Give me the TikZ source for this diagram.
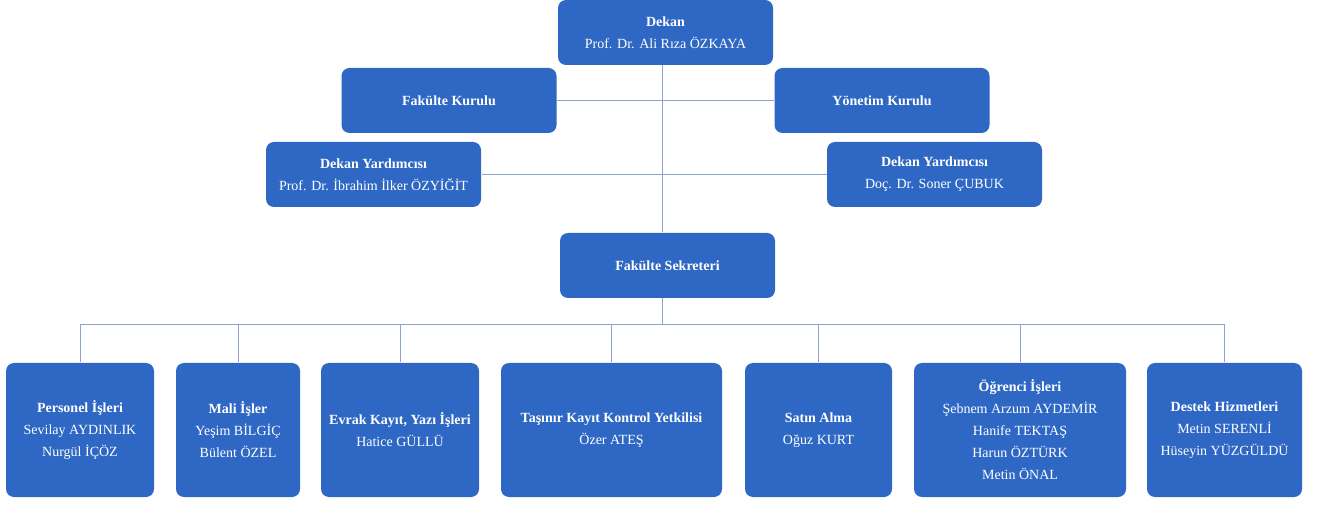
\documentclass[tikz,border=0pt]{standalone}
\usepackage{fontspec}
\setmainfont{Liberation Serif}
\usetikzlibrary{positioning}

\definecolor{boxblue}{RGB}{46,104,196}
\definecolor{linkblue}{RGB}{140,163,204}

\tikzset{every picture/.style={line width=0.75pt}}
\tikzset{
  unit/.style={rounded corners=6pt, fill=boxblue, draw=none, text=white,
    align=center, inner sep=0pt, font=\fontsize{10.5}{16.5}\selectfont},
  topunit/.style={unit, minimum width=161.25pt, minimum height=48.75pt},
  subunit/.style={unit, minimum height=100.5pt},
  link/.style={draw=linkblue, line width=0.75pt}
}

\begin{document}
\begin{tikzpicture}[x=0.75pt,y=0.75pt,yscale=-1,xscale=1]
	\useasboundingbox (0,0) rectangle (1326,505);

	% trunk and bus
	\coordinate (bus) at (662,325);

	% Top boxes
	\node[topunit] (dekan) at (665.5,32.5) {\textbf{Dekan}\\Prof. Dr. Ali Rıza ÖZKAYA};
	\node[topunit] (fkurul) at (449,100.5) {\textbf{Fakülte Kurulu}};
	\node[topunit] (ykurul) at (882,100.5) {\textbf{Yönetim Kurulu}};
	\node[topunit] (dyleft) at (373.5,174.5) {\textbf{Dekan Yardımcısı}\\Prof. Dr. İbrahim İlker ÖZYİĞİT};
	\node[topunit] (dyright) at (934.5,174.5) {\textbf{Dekan Yardımcısı}\\Doç. Dr. Soner ÇUBUK};
	\node[topunit] (sekreter) at (667.5,265.5) {\textbf{Fakülte Sekreteri}};

	% Bottom boxes
	\node[subunit, minimum width=111pt] (personel) at (80,430) {\textbf{Personel İşleri}\\Sevilay AYDINLIK\\Nurgül İÇÖZ};
	\node[subunit, minimum width=93pt] (mali) at (238,430) {\textbf{Mali İşler}\\Yeşim BİLGİÇ\\Bülent ÖZEL};
	\node[subunit, minimum width=118.5pt] (evrak) at (400,430) {\textbf{Evrak Kayıt, Yazı İşleri}\\Hatice GÜLLÜ};
	\node[subunit, minimum width=165.75pt] (tasinir) at (611.5,430) {\textbf{Taşınır Kayıt Kontrol Yetkilisi}\\Özer ATEŞ};
	\node[subunit, minimum width=110.25pt] (satin) at (818.5,430) {\textbf{Satın Alma}\\Oğuz KURT};
	\node[subunit, minimum width=159pt] (ogrenci) at (1020,430) {\textbf{Öğrenci İşleri}\\Şebnem Arzum AYDEMİR\\Hanife TEKTAŞ\\Harun ÖZTÜRK\\Metin ÖNAL};
	\node[subunit, minimum width=116.25pt] (destek) at (1224.5,430) {\textbf{Destek Hizmetleri}\\Metin SERENLİ\\Hüseyin YÜZGÜLDÜ};

	% Connectors
	\draw[link] (dekan.south -| bus) -- (sekreter.north -| bus);
	\draw[link] (fkurul.east) -- (fkurul.east -| ykurul.west);
	\draw[link] (dyleft.east) -- (dyleft.east -| dyright.west);
	\draw[link] (sekreter.south -| bus) -- (bus);
	\foreach \unitname in {personel,mali,evrak,tasinir,satin,ogrenci,destek}
		\draw[link] (\unitname.north) |- (bus);

\end{tikzpicture}
\end{document}
